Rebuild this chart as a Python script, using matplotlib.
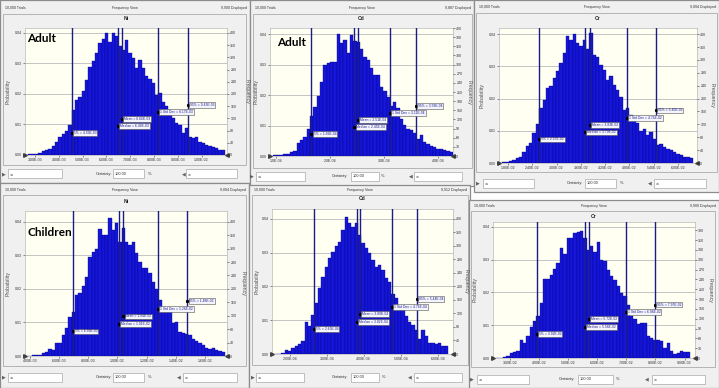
import matplotlib
matplotlib.use("Agg")
import matplotlib.pyplot as plt
from matplotlib.patches import Rectangle

W, H = 719, 388

# ---------------- data ----------------
stat_names = ["5%", "Mean", "Median", "1 Std Dev", "95%"]
stat_label_y = [0.0073, 0.0118, 0.0095, 0.0140, 0.0163]

# Adult Ni
ni_adult_prob = [0.0001, 0.0002, 0.0002, 0.0003, 0.0005, 0.0014, 0.0018, 0.0020, 0.0030, 0.0044,
                 0.0060, 0.0068, 0.0077, 0.0099, 0.0148, 0.0180, 0.0190, 0.0210, 0.0247, 0.0288,
                 0.0307, 0.0334, 0.0367, 0.0380, 0.0400, 0.0369, 0.0400, 0.0390, 0.0356, 0.0345,
                 0.0378, 0.0334, 0.0318, 0.0285, 0.0310, 0.0285, 0.0258, 0.0250, 0.0236, 0.0197,
                 0.0203, 0.0175, 0.0159, 0.0148, 0.0120, 0.0104, 0.0099, 0.0071, 0.0088, 0.0060,
                 0.0057, 0.0060, 0.0044, 0.0040, 0.0033, 0.0030, 0.0027, 0.0022, 0.0016, 0.0016]
ni_adult_bin_start = 2.58e-3
ni_adult_bin_width = 1.40e-4
ni_adult_stats = [4.55e-3, 6.66e-3, 6.49e-3, 8.17e-3, 9.43e-3]
ni_adult_xticks = [3e-3, 4e-3, 5e-3, 6e-3, 7e-3, 8e-3, 9e-3, 1e-2]
ni_adult_freq_ticks = list(range(0, 401, 40))
ni_adult_header = ["10,000 Trials", "Frequency View", "9,900 Displayed"]

# Adult Cd
cd_adult_prob = [0.0002, 0.0002, 0.0003, 0.0005, 0.0008, 0.0013, 0.0016, 0.0043, 0.0052, 0.0063,
                 0.0090, 0.0130, 0.0160, 0.0197, 0.0244, 0.0299, 0.0304, 0.0310, 0.0310, 0.0400,
                 0.0370, 0.0380, 0.0337, 0.0398, 0.0376, 0.0373, 0.0350, 0.0326, 0.0315, 0.0288,
                 0.0266, 0.0266, 0.0225, 0.0214, 0.0195, 0.0164, 0.0178, 0.0156, 0.0123, 0.0101,
                 0.0090, 0.0085, 0.0074, 0.0057, 0.0068, 0.0046, 0.0041, 0.0032, 0.0030, 0.0024,
                 0.0024, 0.0021, 0.0016, 0.0013]
cd_adult_bin_start = 0.956e-4
cd_adult_bin_width = 6.14e-6
cd_adult_stats = [1.66e-4, 2.51e-4, 2.45e-4, 3.11e-4, 3.58e-4]
cd_adult_xticks = [1e-4, 2e-4, 3e-4, 4e-4]
cd_adult_freq_ticks = list(range(0, 421, 30))
cd_adult_header = ["10,000 Trials", "Frequency View", "9,887 Displayed"]

# Adult Cr
cr_adult_prob = [0.0002, 0.0003, 0.0005, 0.0008, 0.0014, 0.0020, 0.0034, 0.0052, 0.0062, 0.0094,
                 0.0120, 0.0170, 0.0195, 0.0232, 0.0240, 0.0263, 0.0284, 0.0310, 0.0340, 0.0393,
                 0.0382, 0.0401, 0.0372, 0.0362, 0.0382, 0.0353, 0.0403, 0.0336, 0.0330, 0.0304,
                 0.0289, 0.0258, 0.0270, 0.0242, 0.0226, 0.0206, 0.0164, 0.0170, 0.0148, 0.0133,
                 0.0123, 0.0099, 0.0107, 0.0088, 0.0097, 0.0076, 0.0055, 0.0058, 0.0050, 0.0045,
                 0.0040, 0.0034, 0.0029, 0.0026, 0.0019, 0.0019, 0.0017]
cr_adult_bin_start = 1.661e-2
cr_adult_bin_width = 8.26e-4
cr_adult_stats = [2.57e-2, 3.83e-2, 3.70e-2, 4.74e-2, 5.45e-2]
cr_adult_xticks = [1.8e-2, 2.4e-2, 3.0e-2, 3.6e-2, 4.2e-2, 4.8e-2, 5.4e-2, 6.0e-2]
cr_adult_freq_ticks = list(range(0, 401, 40))
cr_adult_header = ["10,000 Trials", "Frequency View", "9,894 Displayed"]

# Children Ni
ni_child_prob = [0.0001, 0.0002, 0.0002, 0.0004, 0.0008, 0.0013, 0.0020, 0.0018, 0.0040, 0.0040,
                 0.0063, 0.0082, 0.0117, 0.0132, 0.0182, 0.0189, 0.0208, 0.0236, 0.0294, 0.0310,
                 0.0320, 0.0377, 0.0360, 0.0360, 0.0412, 0.0375, 0.0395, 0.0340, 0.0380, 0.0340,
                 0.0330, 0.0340, 0.0306, 0.0280, 0.0261, 0.0261, 0.0246, 0.0221, 0.0201, 0.0166,
                 0.0137, 0.0132, 0.0132, 0.0097, 0.0102, 0.0072, 0.0069, 0.0067, 0.0063, 0.0050,
                 0.0046, 0.0038, 0.0033, 0.0023, 0.0020, 0.0023, 0.0018, 0.0015, 0.0013]
ni_child_bin_start = 3.88e-3
ni_child_bin_width = 2.286e-4
ni_child_stats = [6.93e-3, 1.040e-2, 1.010e-2, 1.278e-2, 1.479e-2]
ni_child_xticks = [4e-3, 6e-3, 8e-3, 1.0e-2, 1.2e-2, 1.4e-2, 1.6e-2]
ni_child_freq_ticks = list(range(0, 401, 40))
ni_child_header = ["10,000 Trials", "Frequency View", "9,894 Displayed"]

# Children Cd
cd_child_prob = [0.0001, 0.0001, 0.0003, 0.0013, 0.0010, 0.0018, 0.0023, 0.0030, 0.0039, 0.0096,
                 0.0084, 0.0116, 0.0150, 0.0195, 0.0229, 0.0258, 0.0283, 0.0303, 0.0320, 0.0332,
                 0.0367, 0.0406, 0.0388, 0.0376, 0.0388, 0.0352, 0.0327, 0.0313, 0.0298, 0.0278,
                 0.0258, 0.0263, 0.0248, 0.0224, 0.0214, 0.0178, 0.0165, 0.0140, 0.0131, 0.0111,
                 0.0096, 0.0086, 0.0072, 0.0044, 0.0072, 0.0052, 0.0034, 0.0032, 0.0030, 0.0034,
                 0.0025, 0.0023]
cd_child_bin_start = 1.595e-4
cd_child_bin_width = 9.0e-6
cd_child_stats = [2.65e-4, 3.89e-4, 3.82e-4, 4.76e-4, 5.44e-4]
cd_child_xticks = [2e-4, 3e-4, 4e-4, 5e-4, 6e-4]
cd_child_freq_ticks = list(range(0, 401, 40))
cd_child_header = ["10,000 Trials", "Frequency View", "9,912 Displayed"]

# Children Cr
cr_child_prob = [0.0001, 0.0001, 0.0003, 0.0007, 0.0015, 0.0018, 0.0020, 0.0054, 0.0046, 0.0068,
                 0.0095, 0.0112, 0.0129, 0.0168, 0.0241, 0.0241, 0.0254, 0.0272, 0.0290, 0.0336,
                 0.0316, 0.0366, 0.0366, 0.0382, 0.0384, 0.0387, 0.0366, 0.0331, 0.0341, 0.0323,
                 0.0354, 0.0300, 0.0295, 0.0270, 0.0249, 0.0239, 0.0219, 0.0198, 0.0188, 0.0163,
                 0.0129, 0.0119, 0.0105, 0.0107, 0.0107, 0.0066, 0.0061, 0.0056, 0.0056, 0.0051,
                 0.0031, 0.0046, 0.0022, 0.0013, 0.0015, 0.0020, 0.0017, 0.0017]
cr_child_bin_start = 2.541e-2
cr_child_bin_width = 1.147e-3
cr_child_stats = [3.92e-2, 5.72e-2, 5.58e-2, 6.98e-2, 7.97e-2]
cr_child_xticks = [3e-2, 4e-2, 5e-2, 6e-2, 7e-2, 8e-2, 9e-2]
cr_child_freq_ticks = list(range(0, 391, 30))
cr_child_header = ["10,000 Trials", "Frequency View", "9,900 Displayed"]

# ---------------- layout (pixels) ----------------
panels = [
    dict(prob=ni_adult_prob, start=ni_adult_bin_start, width=ni_adult_bin_width, stats=ni_adult_stats,
         xticks=ni_adult_xticks, xfmt="{:.2E}", fticks=ni_adult_freq_ticks, header=ni_adult_header,
         title="Ni", tag="Adult", tagpos=(27, 38),
         outer=(0, 0, 250, 183), frame=(3, 14, 246, 165), plot=(25, 28, 227, 155),
         xlim=(2.58e-3, 1.107e-2), ytop=0.0416, hy=8, ty=19, ply=8, fry=247,
         ctrl=dict(y=174, la=4, lb=(8, 62), ct=112, cb=(113, 144), pc=150, ra=184, rb=(186, 237))),
    dict(prob=cd_adult_prob, start=cd_adult_bin_start, width=cd_adult_bin_width, stats=cd_adult_stats,
         xticks=cd_adult_xticks, xfmt="{:.1E}", fticks=cd_adult_freq_ticks, header=cd_adult_header,
         title="Cd", tag="Adult", tagpos=(277, 43),
         outer=(250, 0, 474, 186), frame=(253, 14, 472, 168), plot=(270, 28, 453, 156),
         xlim=(0.895e-4, 4.27e-4), ytop=0.0420, hy=8, ty=19, ply=256, fry=469,
         ctrl=dict(y=176, la=252, lb=(256, 305), ct=348, cb=(351, 379), pc=383, ra=411, rb=(414, 462))),
    dict(prob=cr_adult_prob, start=cr_adult_bin_start, width=cr_adult_bin_width, stats=cr_adult_stats,
         xticks=cr_adult_xticks, xfmt="{:.2E}", fticks=cr_adult_freq_ticks, header=cr_adult_header,
         title="Cr", tag=None, tagpos=None,
         outer=(474, 0, 719, 192), frame=(476, 13, 717, 172), plot=(499, 28, 697, 163),
         xlim=(1.577e-2, 6.47e-2), ytop=0.0419, hy=7, ty=18, ply=482, fry=712,
         ctrl=dict(y=183, la=478, lb=(483, 534), ct=583, cb=(585, 616), pc=622, ra=650, rb=(654, 706))),
    dict(prob=ni_child_prob, start=ni_child_bin_start, width=ni_child_bin_width, stats=ni_child_stats,
         xticks=ni_child_xticks, xfmt="{:.2E}", fticks=ni_child_freq_ticks, header=ni_child_header,
         title="Ni", tag="Children", tagpos=(27, 232),
         outer=(0, 183, 249, 388), frame=(3, 195, 246, 366), plot=(25, 211, 227, 356),
         xlim=(3.66e-3, 1.751e-2), ytop=0.0432, hy=190, ty=201, ply=8, fry=243,
         ctrl=dict(y=377, la=4, lb=(8, 62), ct=112, cb=(113, 144), pc=150, ra=179, rb=(183, 237))),
    dict(prob=cd_child_prob, start=cd_child_bin_start, width=cd_child_bin_width, stats=cd_child_stats,
         xticks=cd_child_xticks, xfmt="{:.2E}", fticks=cd_child_freq_ticks, header=cd_child_header,
         title="Cd", tag=None, tagpos=None,
         outer=(249, 185, 470, 388), frame=(252, 195, 468, 365), plot=(272, 209, 453, 354),
         xlim=(1.523e-4, 6.41e-4), ytop=0.0429, hy=190, ty=199, ply=257, fry=466,
         ctrl=dict(y=377, la=253, lb=(256, 304), ct=348, cb=(351, 379), pc=384, ra=410, rb=(414, 462))),
    dict(prob=cr_child_prob, start=cr_child_bin_start, width=cr_child_bin_width, stats=cr_child_stats,
         xticks=cr_child_xticks, xfmt="{:.2E}", fticks=cr_child_freq_ticks, header=cr_child_header,
         title="Cr", tag=None, tagpos=None,
         outer=(469, 200, 719, 388), frame=(471, 211, 715, 367), plot=(493, 222, 695, 358),
         xlim=(2.426e-2, 9.36e-2), ytop=0.0415, hy=206, ty=216, ply=475, fry=710,
         ctrl=dict(y=379, la=472, lb=(477, 529), ct=575, cb=(578, 613), pc=618, ra=647, rb=(652, 705))),
]

BAR_FC = "#1616D8"
BAR_EC = "#00008A"
LINE_C = "#1C1C86"
PANEL_BG = "#F0F0F0"
PLOT_BG = "#FFFFF2"
TXT = "#303030"
FONT = "Liberation Sans"

fig = plt.figure(figsize=(W / 100, H / 100), dpi=100)
fig.patch.set_facecolor("white")


def fx(px):
    return px / W


def fy(py):
    return 1 - py / H


def frect(x0, y0, x1, y1, fc, ec, lw=0.6, z=0):
    r = Rectangle((fx(x0), fy(y1)), (x1 - x0) / W, (y1 - y0) / H, transform=fig.transFigure,
                  facecolor=fc, edgecolor=ec, linewidth=lw, zorder=z)
    fig.add_artist(r)


def ftext(x, y, s, **kw):
    kw.setdefault("family", FONT)
    kw.setdefault("color", TXT)
    fig.text(fx(x), fy(y), s, **kw)


for p in panels:
    ox0, oy0, ox1, oy1 = p["outer"]
    frect(ox0, oy0, ox1, oy1, PANEL_BG, "#8C8C8C", lw=0.9)
    fx0, fy0, fx1, fy1 = p["frame"]
    frect(fx0, fy0, fx1, fy1, PANEL_BG, "#B4B4B4", lw=0.7)

    # header
    h = p["header"]
    ftext(ox0 + 5, p["hy"], h[0], fontsize=2.6, va="center", ha="left")
    ftext((ox0 + ox1) / 2, p["hy"], h[1], fontsize=2.6, va="center", ha="center")
    ftext(ox1 - 3, p["hy"], h[2], fontsize=2.6, va="center", ha="right")

    # plot
    x0, y0, x1, y1 = p["plot"]
    ax = fig.add_axes([fx(x0), fy(y1), (x1 - x0) / W, (y1 - y0) / H])
    ax.set_facecolor(PLOT_BG)
    n = len(p["prob"])
    lefts = [p["start"] + i * p["width"] for i in range(n)]
    ax.bar(lefts, p["prob"], width=p["width"], align="edge", color=BAR_FC,
           edgecolor=BAR_EC, linewidth=0.25, zorder=2)
    ax.set_xlim(*p["xlim"])
    ax.set_ylim(0, p["ytop"])
    ax.set_yticks([0, 0.01, 0.02, 0.03, 0.04])
    ax.set_yticklabels(["0.00", "0.01", "0.02", "0.03", "0.04"])
    ax.grid(axis="y", color="#C4C4C4", linewidth=0.7, zorder=1)
    ax.set_axisbelow(True)
    ax.set_xticks(p["xticks"])
    ax.set_xticklabels([p["xfmt"].format(v) for v in p["xticks"]])
    ax.tick_params(labelsize=2.6, length=1.2, width=0.4, pad=1.2, colors=TXT)
    for lab in ax.get_xticklabels() + ax.get_yticklabels():
        lab.set_family(FONT)
    for s in ax.spines.values():
        s.set_color("#B8B8B8")
        s.set_linewidth(0.5)

    ax2 = ax.twinx()
    ax2.set_ylim(0, p["ytop"] * 10000)
    ax2.set_yticks(p["fticks"])
    ax2.set_yticklabels([str(v) for v in p["fticks"]])
    ax2.tick_params(labelsize=2.6, length=1.2, width=0.4, pad=1.2, colors=TXT)
    for lab in ax2.get_yticklabels():
        lab.set_family(FONT)
    for s in ax2.spines.values():
        s.set_visible(False)

    # statistic lines and labels
    for name, val, ly in zip(stat_names, p["stats"], stat_label_y):
        ax.axvline(val, color=LINE_C, linewidth=1.0, zorder=3)
        ax.plot([val], [ly], marker="s", markersize=1.2, color="black", zorder=5, clip_on=False)
        ax.annotate(f"{name} = {val:.2E}", xy=(val, ly), xytext=(1.5, 0), textcoords="offset points",
                    fontsize=2.4, family=FONT, color="#1E1E8C", va="center", ha="left", zorder=6,
                    bbox=dict(boxstyle="square,pad=0.25", fc="#F4F4FC", ec="#505050", lw=0.4))

    # grabbers at axis ends
    ax.plot([0], [0], marker=">", markersize=2.6, color="#404040", transform=ax.transAxes, clip_on=False, zorder=7)
    ax.plot([1], [0], marker="<", markersize=2.6, color="#404040", transform=ax.transAxes, clip_on=False, zorder=7)

    # title / axis labels
    ftext((x0 + x1) / 2, p["ty"], p["title"], fontsize=3.6, weight="bold", ha="center", va="center", color="#202020")
    ftext(p["ply"], (y0 + y1) / 2, "Probability", fontsize=3.8, rotation=90, ha="center", va="center", color="#505050")
    ftext(p["fry"], (y0 + y1) / 2, "Frequency", fontsize=3.8, rotation=270, ha="center", va="center", color="#505050")

    if p["tag"]:
        ftext(p["tagpos"][0], p["tagpos"][1], p["tag"], fontsize=8.5, weight="bold", family="Lato",
              color="black", ha="left", va="center")

    # control row
    c = p["ctrl"]
    cy = c["y"]
    ftext(c["la"], cy, "\u25B6", fontsize=3.5, ha="center", va="center", family="DejaVu Sans", color="#606060")
    frect(c["lb"][0], cy - 4.5, c["lb"][1], cy + 4.5, "white", "#A8A8A8", lw=0.5)
    ftext(c["lb"][0] + 2, cy, "-\u221E", fontsize=2.6, ha="left", va="center", family="DejaVu Sans")
    ftext(c["ct"], cy, "Certainty:", fontsize=2.8, ha="right", va="center")
    frect(c["cb"][0], cy - 4.5, c["cb"][1], cy + 4.5, "white", "#A8A8A8", lw=0.5)
    ftext(c["cb"][0] + 2, cy, "100.00", fontsize=2.8, ha="left", va="center")
    ftext(c["pc"], cy, "%", fontsize=2.8, ha="center", va="center")
    ftext(c["ra"], cy, "\u25C0", fontsize=3.5, ha="center", va="center", family="DejaVu Sans", color="#606060")
    frect(c["rb"][0], cy - 4.5, c["rb"][1], cy + 4.5, "white", "#A8A8A8", lw=0.5)
    ftext(c["rb"][0] + 2, cy, "\u221E", fontsize=2.6, ha="left", va="center", family="DejaVu Sans")

fig.savefig("out.png", dpi=100, facecolor="white")
